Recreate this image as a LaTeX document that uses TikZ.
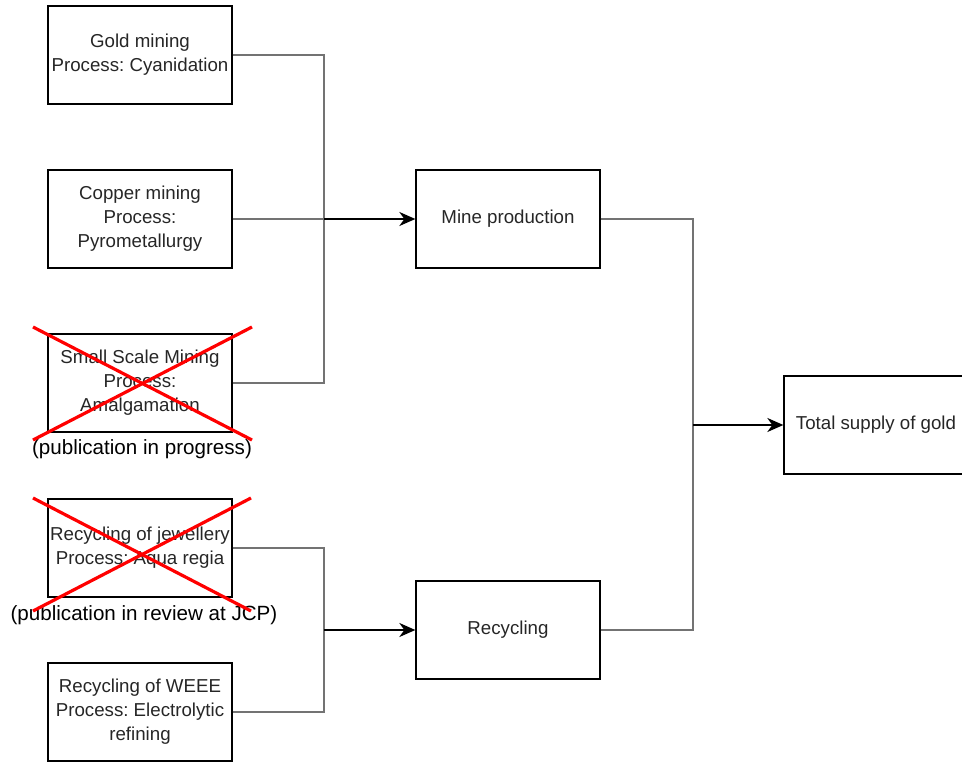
\documentclass[tikz,border=0pt]{standalone}
\usepackage{fontspec}
\setmainfont{Liberation Sans}
\usetikzlibrary{arrows.meta}
\frenchspacing
\begin{document}
\begin{tikzpicture}[x=1pt, y=-1pt,
  box/.style={draw, line width=1.3pt, minimum width=184pt, minimum height=98pt, inner sep=0pt, align=center, text=black!85, font=\fontsize{18.7}{24}\selectfont},
  note/.style={inner sep=0pt, font=\fontsize{20.6}{24}\selectfont},
  link/.style={draw=black!55, line width=1.5pt},
  flow/.style={line width=2pt, -{Stealth[length=16pt, width=14pt, inset=5pt]}},
  cross/.style={red, line width=3.2pt}]
\clip (0,0) rectangle (962,762);
\node[box] (gold) at (140,55){Gold mining\\Process: Cyanidation};
\node[box] (copper) at (140,219){Copper mining\\Process:\\Pyrometallurgy};
\node[box] (small) at (140,383){Small Scale Mining\\Process:\\Amalgamation};
\node[note] (small_note) at (142,449){(publication in progress)};
\node[box] (jewel) at (140,548){Recycling of jewellery\\Process: Aqua regia};
\node[note] (jewel_note) at (144,615){(publication in review at JCP)};
\node[box] (weee) at (140,712){Recycling of WEEE\\Process: Electrolytic\\refining};
\node[box] (mine) at (508,219){Mine production};
\node[box] (recyc) at (508,630){Recycling};
\node[box] (total) at (876,425){Total supply of gold};
\coordinate (mine_in) at (324,219);
\coordinate (recyc_in) at (324,630);
\coordinate (total_in) at (693,425);
\draw[link] (gold.east) -| (mine_in);
\draw[link] (copper.east) -- (mine_in);
\draw[link] (small.east) -| (mine_in);
\draw[link] (jewel.east) -| (recyc_in);
\draw[link] (weee.east) -| (recyc_in);
\draw[link] (mine.east) -| (total_in);
\draw[link] (recyc.east) -| (total_in);
\draw[flow] (mine_in) -- (mine.west);
\draw[flow] (recyc_in) -- (recyc.west);
\draw[flow] (total_in) -- (total.west);
\draw[cross] (33,327) -- (252,440);
\draw[cross] (33,440) -- (252,327);
\draw[cross] (33,498) -- (251,611);
\draw[cross] (33,611) -- (251,498);
\end{tikzpicture}
\end{document}
